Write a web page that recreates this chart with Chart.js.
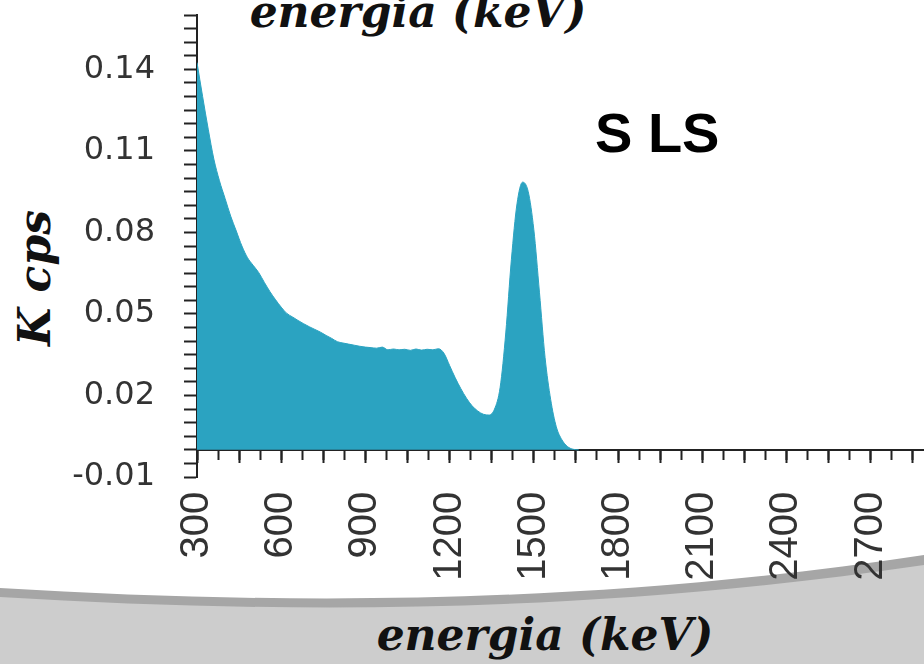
<!DOCTYPE html>
<html>
<head>
<meta charset="utf-8">
<script src="https://cdn.jsdelivr.net/npm/chart.js@4.4.1/dist/chart.umd.min.js"></script>
<style>
  body { margin: 0; background: #fff; }
  #stage { position: relative; width: 924px; height: 664px; overflow: hidden; }
  #stage svg, #stage canvas { position: absolute; left: 0; top: 0; }
  .caption { font-family: "DejaVu Serif", serif; font-weight: bold; font-style: italic; fill: #111; }
</style>
</head>
<body>
<div id="stage">
  <svg width="924" height="664">
    <path d="M0,588 C300,606 600,604 924,555 L924,664 L0,664 Z" fill="#a6a6a6"/>
    <path d="M0,597 C300,615 600,613 924,565 L924,664 L0,664 Z" fill="#cdcdcd"/>
    <text class="caption" x="418" y="27" font-size="44" text-anchor="middle">energia (keV)</text>
    <text class="caption" x="545" y="650" font-size="44" text-anchor="middle">energia (keV)</text>
    <text class="caption" font-size="44" text-anchor="middle" transform="translate(50,278) rotate(-90)">K cps</text>
    <text x="595" y="152" font-family="Liberation Sans, Arial, sans-serif" font-weight="bold" font-size="56" fill="#000">S LS</text>
  </svg>
  <canvas id="spectrumChart" width="924" height="664"></canvas>
</div>
<script>
// gamma spectrum, counts in K cps against energy in keV
const energies = [
    300, 320, 340, 360, 380, 400, 420, 440, 460, 480,
    500, 520, 540, 560, 580, 600, 620, 640, 660, 680,
    700, 720, 740, 760, 780, 800, 820, 840, 860, 880,
    900, 920, 940, 960, 980, 1000, 1020, 1040, 1060, 1080,
    1100, 1120, 1140, 1160, 1180, 1200, 1220, 1240, 1260, 1280,
    1300, 1320, 1340, 1360, 1380, 1400, 1420, 1440, 1460, 1480,
    1500, 1520, 1540, 1560, 1580, 1600, 1620, 1640, 1660
];
const counts = [
    0.1425, 0.130, 0.118, 0.107, 0.099, 0.0925, 0.086, 0.0805, 0.075, 0.0707,
    0.0679, 0.0652, 0.0616, 0.0582, 0.0552, 0.0525, 0.0502, 0.0489, 0.0476, 0.0464,
    0.0453, 0.0443, 0.0433, 0.0421, 0.0410, 0.0398, 0.0393, 0.0389, 0.0385, 0.0381,
    0.0378, 0.0376, 0.0374, 0.0378, 0.0368, 0.0371, 0.0368, 0.0370, 0.0366, 0.0371,
    0.0367, 0.0370, 0.0368, 0.0372, 0.0355, 0.0310, 0.0265, 0.0225, 0.0190, 0.0162,
    0.0143, 0.0131, 0.0128, 0.0150, 0.0230, 0.0430, 0.0700, 0.0905, 0.0985, 0.0950,
    0.0810, 0.0580, 0.0340, 0.0185, 0.0085, 0.0037, 0.0012, 0.0002, 0
];

const X_MIN = 300, X_MAX = 2890;
const Y_MIN = -0.01, Y_MAX = 0.16;
const X_LABEL_STEP = 300;   // labelled every 300 keV
const Y_LABEL_STEP = 0.03;  // labelled every 0.03 starting at -0.01

const AXIS_COLOR = "#222";
const FILL_COLOR = "#2ba3c1";

function dropPadding(scale) {
    scale.paddingTop = 0;
    scale.paddingBottom = 0;
    scale.paddingLeft = 0;
    scale.paddingRight = 0;
}

const ctx = document.getElementById("spectrumChart").getContext("2d");

new Chart(ctx, {
    type: "line",
    data: {
        datasets: [{
            data: energies.map((e, i) => ({ x: e, y: counts[i] })),
            xAxisID: "x",
            yAxisID: "y",
            fill: "origin",
            backgroundColor: FILL_COLOR,
            borderColor: FILL_COLOR,
            borderWidth: 1,
            pointRadius: 0,
            cubicInterpolationMode: "monotone"
        }]
    },
    options: {
        responsive: false,
        devicePixelRatio: 1,
        animation: false,
        layout: { padding: { left: 0, top: 15, right: 0, bottom: 187 } },
        plugins: {
            legend: { display: false },
            tooltip: { enabled: false }
        },
        scales: {
            x: {
                type: "linear",
                position: { y: 0 },
                min: X_MIN,
                max: X_MAX,
                border: { color: AXIS_COLOR, width: 2 },
                grid: {
                    drawOnChartArea: false,
                    tickLength: 9,
                    tickWidth: 2,
                    tickColor: AXIS_COLOR
                },
                ticks: {
                    stepSize: 75,
                    includeBounds: false,
                    autoSkip: false,
                    minRotation: 90,
                    maxRotation: 90,
                    padding: 33,
                    color: "#333",
                    font: { family: "Liberation Sans", size: 40 },
                    callback: v => (v % X_LABEL_STEP === 0 ? String(v) : "")
                },
                afterFit: dropPadding
            },
            // longer marks every 150 keV on the same line
            x2: {
                type: "linear",
                axis: "x",
                position: { y: 0 },
                min: X_MIN,
                max: X_MAX,
                border: { display: false },
                grid: {
                    drawOnChartArea: false,
                    tickLength: 13,
                    tickWidth: 2,
                    tickColor: AXIS_COLOR
                },
                ticks: {
                    stepSize: 150,
                    includeBounds: false,
                    autoSkip: false,
                    callback: () => ""
                },
                afterFit: dropPadding
            },
            y: {
                type: "linear",
                position: "left",
                min: Y_MIN,
                max: Y_MAX,
                border: { color: AXIS_COLOR, width: 2 },
                grid: {
                    drawOnChartArea: false,
                    tickLength: 13,
                    tickWidth: 2,
                    tickColor: AXIS_COLOR
                },
                ticks: {
                    stepSize: 0.005,
                    autoSkip: false,
                    padding: 29,
                    color: "#333",
                    font: { family: "DejaVu Sans", size: 32 },
                    callback: v => {
                        const k = Math.round((v - Y_MIN) * 1000);
                        return k % Math.round(Y_LABEL_STEP * 1000) === 0 ? v.toFixed(2) : "";
                    }
                },
                afterFit: scale => {
                    dropPadding(scale);
                    scale.width = 197;
                }
            }
        }
    }
});
</script>
</body>
</html>
